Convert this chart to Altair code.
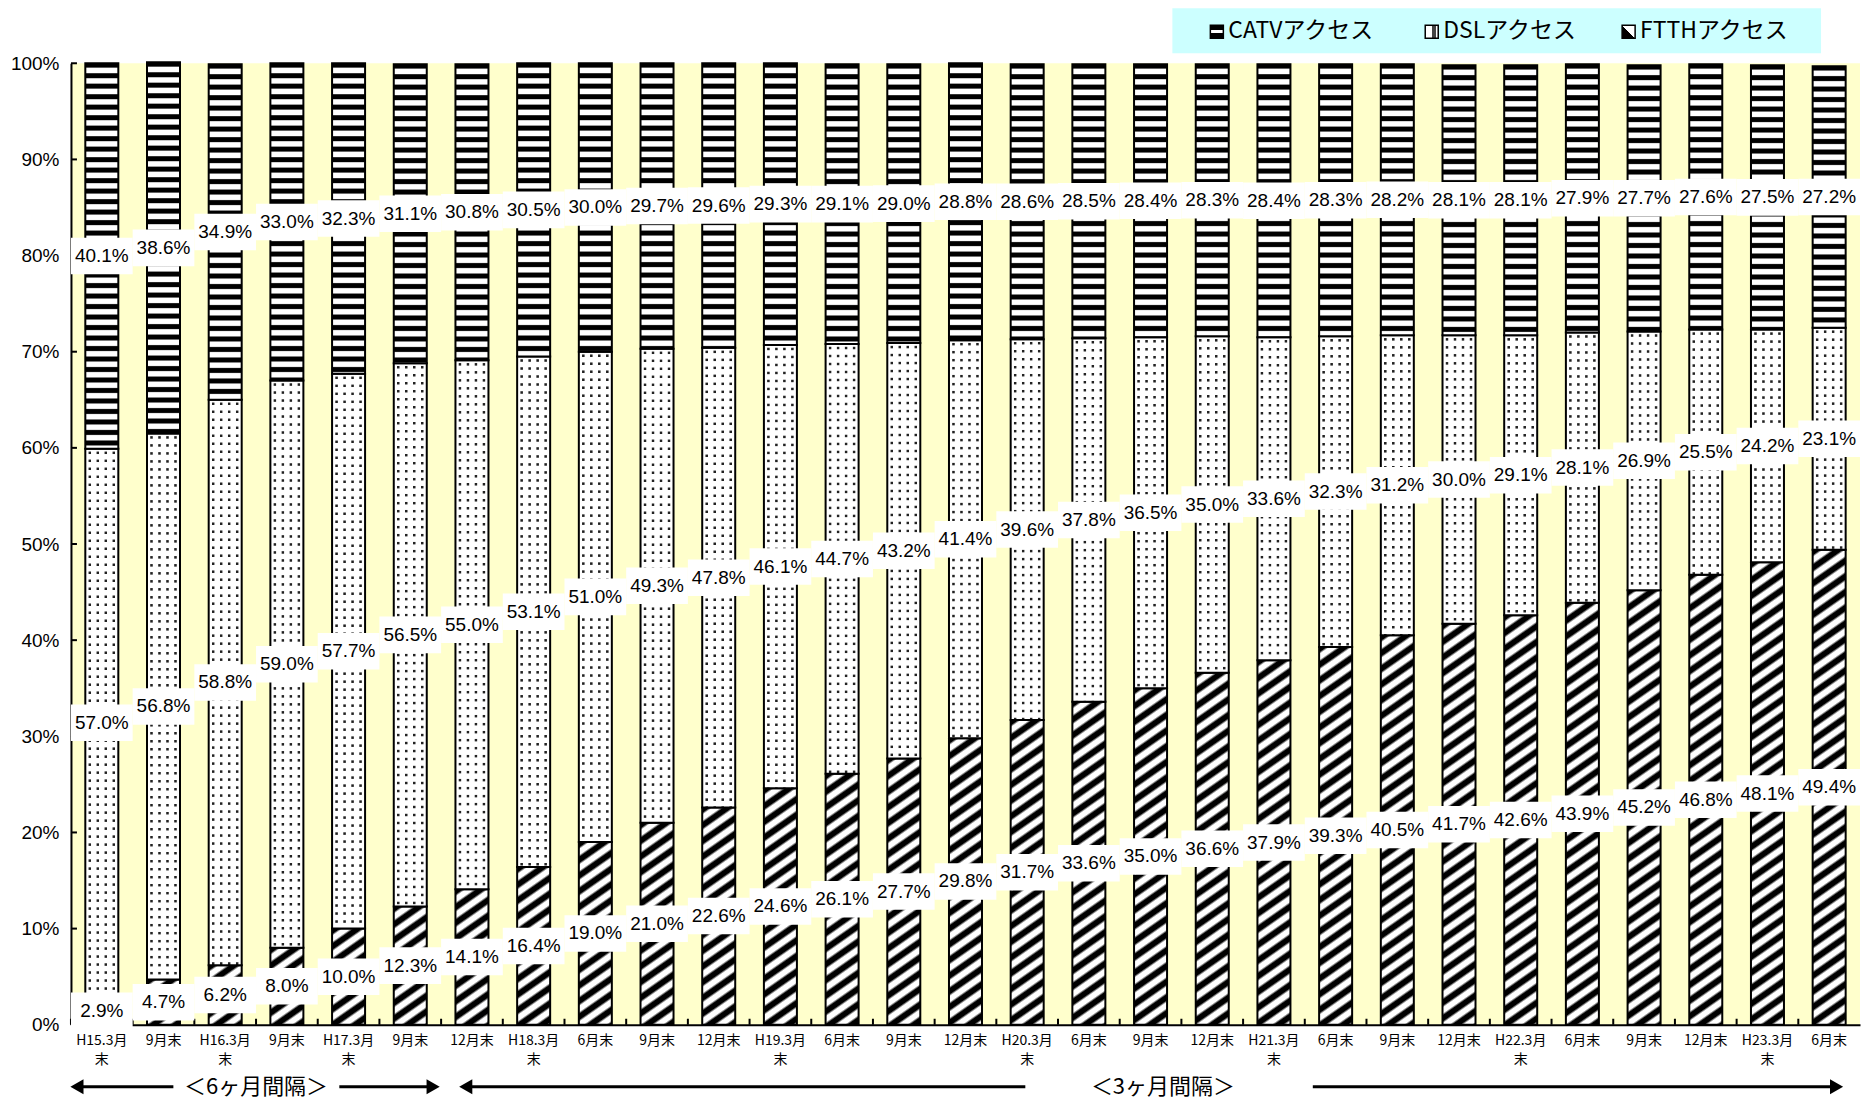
import altair as alt
import pandas as pd

# ---------------- data ----------------
categories = ["H15.3月\n末", "9月末", "H16.3月\n末", "9月末", "H17.3月\n末", "9月末",
              "12月末", "H18.3月\n末", "6月末", "9月末", "12月末", "H19.3月\n末",
              "6月末", "9月末", "12月末", "H20.3月\n末", "6月末", "9月末", "12月末",
              "H21.3月\n末", "6月末", "9月末", "12月末", "H22.3月\n末", "6月末",
              "9月末", "12月末", "H23.3月\n末", "6月末"]
ftth = [2.9, 4.7, 6.2, 8.0, 10.0, 12.3, 14.1, 16.4, 19.0, 21.0, 22.6, 24.6, 26.1, 27.7,
        29.8, 31.7, 33.6, 35.0, 36.6, 37.9, 39.3, 40.5, 41.7, 42.6, 43.9, 45.2, 46.8,
        48.1, 49.4]
dsl = [57.0, 56.8, 58.8, 59.0, 57.7, 56.5, 55.0, 53.1, 51.0, 49.3, 47.8, 46.1, 44.7, 43.2,
       41.4, 39.6, 37.8, 36.5, 35.0, 33.6, 32.3, 31.2, 30.0, 29.1, 28.1, 26.9, 25.5,
       24.2, 23.1]
catv = [40.1, 38.6, 34.9, 33.0, 32.3, 31.1, 30.8, 30.5, 30.0, 29.7, 29.6, 29.3, 29.1, 29.0,
        28.8, 28.6, 28.5, 28.4, 28.3, 28.4, 28.3, 28.2, 28.1, 28.1, 27.9, 27.7, 27.6,
        27.5, 27.2]
series_names = ["CATVアクセス", "DSLアクセス", "FTTHアクセス"]
y_ticks = [0, 10, 20, 30, 40, 50, 60, 70, 80, 90, 100]
interval_labels = ["＜6ヶ月間隔＞", "＜3ヶ月間隔＞"]

# ---------------- layout / style ----------------
W, H = 1790, 962
NB = len(categories)
BAND = W / NB
BAR_FRAC = 0.535
BW = BAND * BAR_FRAC
PX = H / 100.0
NUM_FONT = "Liberation Sans, Arial, sans-serif"
JP_FONT = "Noto Sans CJK JP"
K = "#000000"
WT = "#ffffff"
CLR = "rgba(255,255,255,0)"


def pattern_stops(length, period, pattern, phase=0.0):
    stops = []
    start = -phase
    while start < length + period:
        for pos, col in pattern:
            s = start + pos
            if 0 <= s <= length:
                off = round(s / length, 5)
                if stops and off < stops[-1]["offset"]:
                    off = stops[-1]["offset"]
                stops.append({"offset": off, "color": col})
        start += period
    return stops


CATV_PAT = [(0, K), (3.8, K), (5.0, WT), (9.3, WT), (10.5, K)]
FT_PAT = [(0, K), (5.0, K), (7.6, WT), (12.9, WT), (15.5, K)]
DOT = "#222222"
COL_PAT = [(0, WT), (2.3, WT), (3.2, DOT), (4.8, DOT), (5.7, WT), (8.0, WT)]
ROW_PAT = [(0, WT), (2.3, WT), (3.2, CLR), (4.8, CLR), (5.7, WT), (8.0, WT)]


def vgrad(h, period, pat):
    return {"gradient": "linear", "x1": 0, "y1": 0, "x2": 0, "y2": 1,
            "stops": pattern_stops(h, period, pat)}


def ftth_grad(h):
    r = 0.7
    smax = r * BW + h
    k = smax / ((r * BW) ** 2 + h ** 2)
    return {"gradient": "linear", "x1": 0, "y1": 0,
            "x2": round(k * r * BW, 5), "y2": round(k * h, 5),
            "stops": pattern_stops(smax, 15.7, FT_PAT)}


def conds(grads):
    return [{"test": f"datum.idx === {i}", "value": g} for i, g in enumerate(grads)]


catv_grads = [vgrad(v * PX, 10.5, CATV_PAT) for v in catv]
dsl_grads = [vgrad(v * PX, 8.0, ROW_PAT) for v in dsl]
ftth_grads = [ftth_grad(v * PX) for v in ftth]
col_grad = {"gradient": "linear", "x1": 0, "y1": 0, "x2": 1, "y2": 0,
            "stops": pattern_stops(BW, 8.0, COL_PAT, phase=-0.5)}

# ---------------- tables ----------------
df = pd.DataFrame({"idx": list(range(NB)), "label": categories,
                   "ftth": ftth, "dsl": dsl, "catv": catv})
df["f_top"] = df["ftth"]
df["d_top"] = df["ftth"] + df["dsl"]
df["c_top"] = df["d_top"] + df["catv"]

rows = []
for i in range(NB):
    f, d, c = ftth[i], dsl[i], catv[i]
    rows.append({"idx": i, "mid": f / 2, "txt": f"{f:.1f}%"})
    rows.append({"idx": i, "mid": f + d / 2, "txt": f"{d:.1f}%"})
    rows.append({"idx": i, "mid": f + d + c / 2, "txt": f"{c:.1f}%"})
labels_df = pd.DataFrame(rows)
one = pd.DataFrame({"k": [0]})

# ---------------- encodings ----------------
xs = alt.Scale(paddingInner=0, paddingOuter=0)
xax = alt.Axis(labels=False, ticks=False, title=None, grid=False,
               domainColor="black", domainWidth=2)
ys = alt.Scale(domain=[0, 100], nice=False)
yax = alt.Axis(values=y_ticks, labelExpr="datum.value + '%'", title=None, ticks=False,
               grid=False, domainColor="black", domainWidth=2, labelFont=NUM_FONT,
               labelFontSize=19, labelColor="black", labelPadding=12)


def X(**kw):
    return alt.X("idx:O", scale=xs, axis=xax, **kw)


def Y(field):
    return alt.Y(field, scale=ys, axis=yax)


base = alt.Chart(df)
bar_kw = dict(width=alt.RelativeBandSize(BAR_FRAC), stroke="black", strokeWidth=2)

ftth_bars = base.mark_bar(**bar_kw).encode(
    x=X(), y=Y("f_top:Q"), fill=alt.value("white", condition=conds(ftth_grads)))
dsl_cols = base.mark_bar(width=alt.RelativeBandSize(BAR_FRAC), strokeWidth=0).encode(
    x=X(), y=Y("f_top:Q"), y2="d_top:Q", fill=alt.value(col_grad))
dsl_mask = base.mark_bar(**bar_kw).encode(
    x=X(), y=Y("f_top:Q"), y2="d_top:Q", fill=alt.value("white", condition=conds(dsl_grads)))
catv_bars = base.mark_bar(**bar_kw).encode(
    x=X(), y=Y("d_top:Q"), y2="c_top:Q", fill=alt.value("white", condition=conds(catv_grads)))

yticks = alt.Chart(pd.DataFrame({"v": y_ticks})).mark_rule(color="black", strokeWidth=2).encode(
    y=Y("v:Q"), x=alt.value(0), x2=alt.value(6))
xticks = base.mark_rule(color="black", strokeWidth=2).encode(
    x=X(bandPosition=0), y=alt.value(H), y2=alt.value(H - 6))

boxes = alt.Chart(labels_df).transform_calculate(
    lo="datum.mid - 1.9", hi="datum.mid + 1.9").mark_rect(fill="white").encode(
    x=X(), y=Y("lo:Q"), y2="hi:Q")
texts = alt.Chart(labels_df).mark_text(font=NUM_FONT, fontSize=19, color="black").encode(
    x=X(), y=Y("mid:Q"), text="txt:N")

xlabels = base.mark_text(font=JP_FONT, fontSize=14, baseline="top", lineBreak="\n",
                         lineHeight=19, color="black").encode(
    x=X(), y=alt.value(H + 9), text="label:N")

layers = [ftth_bars, dsl_cols, dsl_mask, catv_bars, yticks, xticks, boxes, texts, xlabels]

# legend (manual)
layers.append(alt.Chart(one).mark_rect(fill="#CCFFFF").encode(
    x=alt.value(1102), x2=alt.value(1751), y=alt.value(-55), y2=alt.value(-10)))
leg_marker_x = [1140, 1355, 1552]
leg_fills = [
    {"gradient": "linear", "x1": 0, "y1": 0, "x2": 0, "y2": 1,
     "stops": [{"offset": 0, "color": K}, {"offset": 0.38, "color": K},
               {"offset": 0.38, "color": WT}, {"offset": 0.62, "color": WT},
               {"offset": 0.62, "color": K}, {"offset": 1, "color": K}]},
    {"gradient": "linear", "x1": 0, "y1": 0, "x2": 1, "y2": 0,
     "stops": [{"offset": 0, "color": WT}, {"offset": 0.55, "color": WT},
               {"offset": 0.55, "color": "#444"}, {"offset": 0.8, "color": "#444"},
               {"offset": 0.8, "color": WT}, {"offset": 1, "color": WT}]},
    {"gradient": "linear", "x1": 0, "y1": 1, "x2": 1, "y2": 0,
     "stops": [{"offset": 0, "color": K}, {"offset": 0.5, "color": K},
               {"offset": 0.5, "color": WT}, {"offset": 1, "color": WT}]},
]
for name, mx, fg in zip(series_names, leg_marker_x, leg_fills):
    layers.append(alt.Chart(one).mark_rect(stroke="black", strokeWidth=1.5).encode(
        x=alt.value(mx), x2=alt.value(mx + 13), y=alt.value(-38), y2=alt.value(-25),
        fill=alt.value(fg)))
    layers.append(alt.Chart(one).mark_text(text=name, font=JP_FONT, fontSize=23,
                                           align="left", baseline="middle",
                                           color="black").encode(
        x=alt.value(mx + 18), y=alt.value(-32)))

# interval arrows
AY = H + 62
segs = [(4, 1.66 * BAND), (4.35 * BAND, 6.0 * BAND - 10),
        (6.27 * BAND + 10, 15.47 * BAND), (20.13 * BAND, 28.75 * BAND - 10)]
for a, b in segs:
    layers.append(alt.Chart(one).mark_rule(color="black", strokeWidth=3).encode(
        x=alt.value(a), x2=alt.value(b), y=alt.value(AY)))
heads = [(-2 + 8, "triangle-left"), (6.0 * BAND - 8, "triangle-right"),
         (6.27 * BAND + 8, "triangle-left"), (28.75 * BAND - 8, "triangle-right")]
for hx, shp in heads:
    layers.append(alt.Chart(one).mark_point(shape=shp, filled=True, color="black",
                                            opacity=1, size=230).encode(
        x=alt.value(hx), y=alt.value(AY)))
for txt, cx in zip(interval_labels, [3.0 * BAND, 17.7 * BAND]):
    layers.append(alt.Chart(one).mark_text(text=txt, font=JP_FONT, fontSize=22,
                                           color="black", baseline="middle").encode(
        x=alt.value(cx), y=alt.value(AY)))

chart = alt.layer(*layers).properties(
    width=W, height=H,
    padding={"left": 2, "right": 2, "top": 0, "bottom": 6},
).configure_view(fill="#FFFFCC", stroke=None)

chart.save("out.html", embed_options={"renderer": "svg", "actions": False})
